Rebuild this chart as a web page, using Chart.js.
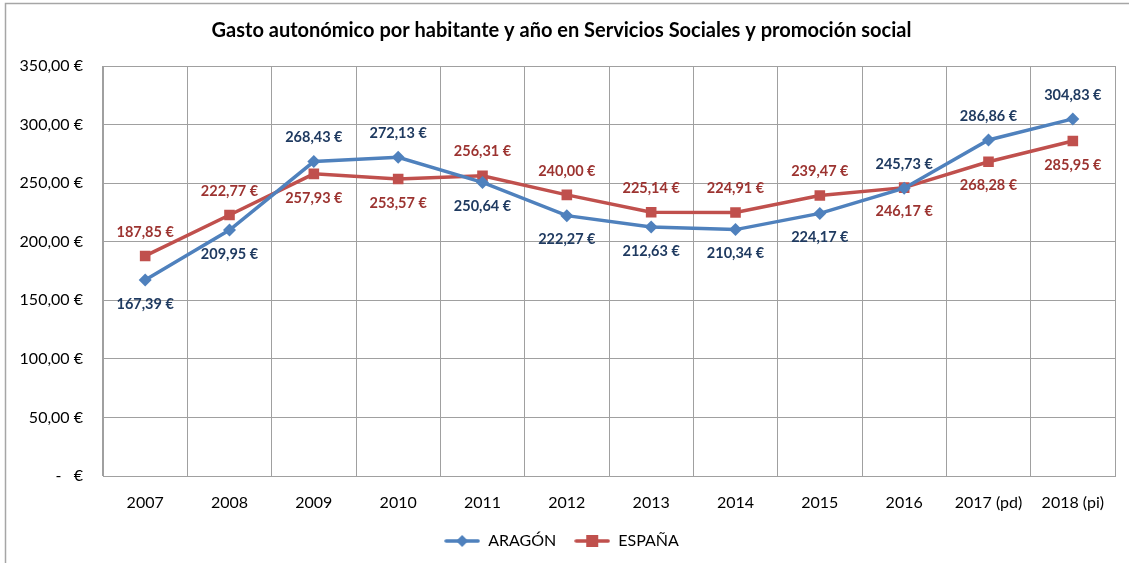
<!DOCTYPE html>
<html><head><meta charset="utf-8">
<script src="https://cdn.jsdelivr.net/npm/chart.js@4"></script>
<style>
html,body{margin:0;padding:0;background:#fff;}
#wrap{position:relative;width:1129px;height:563px;}
</style></head>
<body><div id="wrap"><canvas id="c" width="1129" height="563"></canvas></div>
<script>
const categories = ['2007','2008','2009','2010','2011','2012','2013','2014','2015','2016','2017 (pd)','2018 (pi)'];
const aragon = [167.39,209.95,268.43,272.13,250.64,222.27,212.63,210.34,224.17,245.73,286.86,304.83];
const espana = [187.85,222.77,257.93,253.57,256.31,240.00,225.14,224.91,239.47,246.17,268.28,285.95];
const aragonLabelPos = ['below','below','above','above','below','below','below','below','below','above','above','above'];
const espanaLabelPos = ['above','above','below','below','above','above','above','above','above','below','below','below'];
const yTicks = [0,50,100,150,200,250,300,350];

const BLUE = '#4F81BD', RED = '#C0504D';
const BLUE_TXT = '#1F3A60', RED_TXT = '#9C3330';
const FONT = 'Lato, "Open Sans", sans-serif';

function fmt(v){
  if (v === 0) return '-   €';
  return v.toFixed(2).replace('.', ',') + ' €';
}

function legendIcon(color, shape){
  const c = document.createElement('canvas');
  c.width = 36; c.height = 16;
  const g = c.getContext('2d');
  g.strokeStyle = color; g.lineWidth = 3.5; g.lineCap = 'round';
  g.beginPath(); g.moveTo(2,8); g.lineTo(34,8); g.stroke();
  g.fillStyle = color;
  if (shape === 'diamond'){
    g.beginPath(); g.moveTo(18,2); g.lineTo(24,8); g.lineTo(18,14); g.lineTo(12,8); g.closePath(); g.fill();
  } else {
    g.fillRect(12,2,12,12);
  }
  return c;
}

const dataLabels = {
  id:'dataLabels',
  afterDatasetsDraw(chart){
    const ctx = chart.ctx;
    ctx.save();
    ctx.font = 'bold 14.5px ' + FONT;
    ctx.textAlign = 'center';
    ctx.textBaseline = 'middle';
    const specs = [
      {i:0, pos:aragonLabelPos, color:BLUE_TXT},
      {i:1, pos:espanaLabelPos, color:RED_TXT}
    ];
    specs.forEach(s=>{
      const meta = chart.getDatasetMeta(s.i);
      const ds = chart.data.datasets[s.i].data;
      meta.data.forEach((pt,k)=>{
        const dy = s.pos[k] === 'above' ? -24 : 24;
        ctx.fillStyle = s.color;
        ctx.fillText(fmt(ds[k]), pt.x, pt.y + dy);
      });
    });
    ctx.restore();
  }
};

const frame = {
  id:'frame',
  afterDraw(chart){
    const ctx = chart.ctx;
    ctx.save();
    ctx.strokeStyle = '#a6a6a6';
    ctx.lineWidth = 1.5;
    ctx.beginPath();
    ctx.moveTo(5.5, 563); ctx.lineTo(5.5, 3.5); ctx.lineTo(1129, 3.5);
    ctx.stroke();
    ctx.restore();
  }
};

new Chart(document.getElementById('c'), {
  type:'line',
  data:{
    labels:categories,
    datasets:[
      {label:'ARAGÓN', data:aragon, borderColor:BLUE, backgroundColor:BLUE, borderWidth:3.5,
       pointStyle:'rectRot', pointRadius:6.5, pointHoverRadius:6.5, pointBorderWidth:0, tension:0},
      {label:'ESPAÑA', data:espana, borderColor:RED, backgroundColor:RED, borderWidth:3.5,
       pointStyle:'rect', pointRadius:7.5, pointHoverRadius:7.5, pointBorderWidth:0, tension:0}
    ]
  },
  options:{
    responsive:false, animation:false,
    layout:{padding:{left:8, right:14, top:0, bottom:4}},
    plugins:{
      title:{display:true, text:'Gasto autonómico por habitante y año en Servicios Sociales y promoción social',
        color:'#000', font:{family:FONT, size:20, weight:'bold'}, padding:{top:19, bottom:23}},
      legend:{position:'bottom',
        labels:{usePointStyle:true, pointStyleWidth:36, boxHeight:16, color:'#000', font:{family:FONT, size:16}, padding:18,
          generateLabels(chart){
            return chart.data.datasets.map((d,i)=>({
              text:d.label, fillStyle:d.borderColor, strokeStyle:d.borderColor, lineWidth:0,
              pointStyle: legendIcon(d.borderColor, i===0?'diamond':'square'),
              datasetIndex:i, hidden:false, fontColor:'#000'
            }));
          }}},
      tooltip:{enabled:false}
    },
    scales:{
      x:{
        offset:true,
        grid:{offset:true, color:'#a0a0a0', lineWidth:1, drawTicks:false},
        border:{color:'#a0a0a0', width:1},
        ticks:{color:'#000', font:{family:FONT, size:16}, padding:17, maxRotation:0, autoSkip:false},
        afterFit(s){ s.height = 39; }
      },
      y:{
        min:0, max:350,
        afterBuildTicks(s){ s.ticks = yTicks.map(v=>({value:v})); },
        grid:{color:'#a0a0a0', lineWidth:1, drawTicks:false},
        border:{color:'#a0a0a0', width:1},
        ticks:{color:'#000', font:{family:FONT, size:16}, padding:20, callback:v=>fmt(v)},
        afterFit(s){ s.width = 95; }
      }
    }
  },
  plugins:[dataLabels, frame]
});
</script></body></html>
